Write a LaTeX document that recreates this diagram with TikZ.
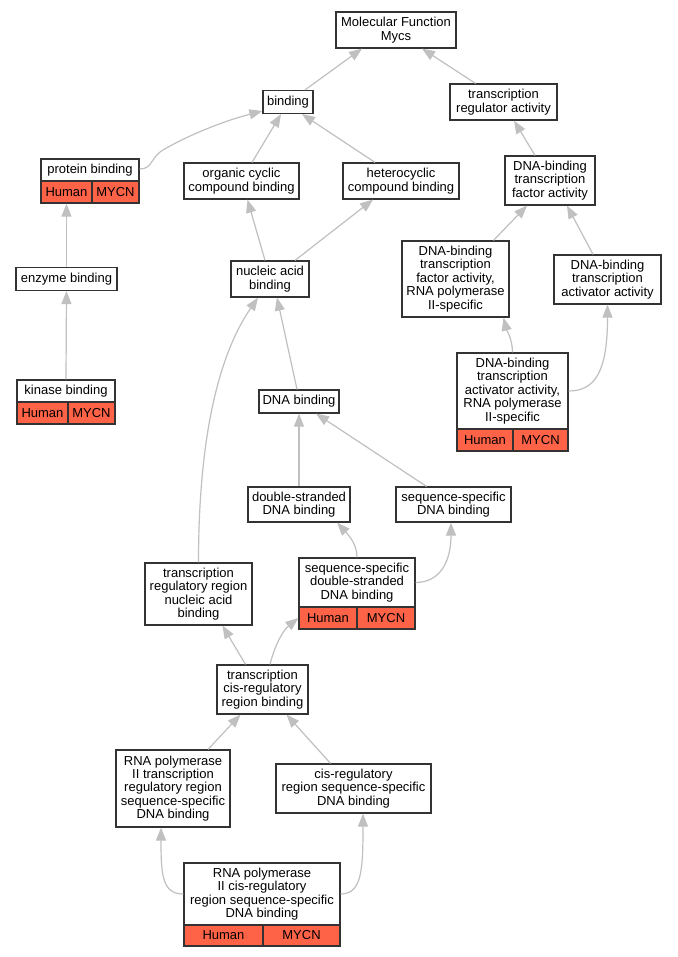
\documentclass[tikz,border=0pt]{standalone}
\usepackage{fontspec}
\usetikzlibrary{arrows.meta}
\newfontfamily\gofont{Liberation Sans}
\newcommand\gonodefont{\gofont\fontsize{13}{13.4}\selectfont}
\definecolor{tomatored}{HTML}{FF6347}
\definecolor{edgegray}{HTML}{C0C0C0}
\definecolor{boxline}{HTML}{333333}
\tikzset{
  box/.style={draw=boxline, line width=1.2pt, fill=white, inner sep=0pt, align=center, font=\gonodefont},
  cell/.style={box, fill=tomatored},
  edge/.style={draw=edgegray, line width=1.2pt, -{Triangle[length=13pt,width=10pt]}},
}
\begin{document}
\begin{tikzpicture}[x=1pt,y=-1pt]
\useasboundingbox[fill=white] (0,0) rectangle (677,957);
% nodes
\node[box, minimum width=120, minimum height=36] (mf) at (396,30) {Molecular Function\\Mycs};
\node[box, minimum width=50, minimum height=23] (bind) at (288,102) {binding};
\node[box, minimum width=107, minimum height=36] (tra) at (503.5,102) {transcription\\regulator activity};
\node[box, minimum width=98, minimum height=22] (pbw) at (90,170) {protein binding};
\node[cell, minimum width=51, minimum height=22] (pbh) at (66.5,192) {Human};
\node[cell, minimum width=47, minimum height=22] (pbm) at (115.5,192) {MYCN};
\node[box, minimum width=115, minimum height=36] (org) at (241.5,181) {organic cyclic\\compound binding};
\node[box, minimum width=116, minimum height=36] (het) at (401,181) {heterocyclic\\compound binding};
\node[box, minimum width=90, minimum height=49] (dbtfa) at (550,180.5) {DNA-binding\\transcription\\factor activity};
\node[box, minimum width=101, minimum height=23] (enz) at (66.5,279) {enzyme binding};
\node[box, minimum width=78, minimum height=36] (nuc) at (270,279) {nucleic acid\\binding};
\node[box, minimum width=107, minimum height=76] (dbtfar) at (455.5,279) {DNA-binding\\transcription\\factor activity,\\RNA polymerase\\II-specific};
\node[box, minimum width=107, minimum height=49] (dbtaa) at (607.5,279.5) {DNA-binding\\transcription\\activator activity};
\node[box, minimum width=111, minimum height=76] (dbtaarw) at (512.5,391) {DNA-binding\\transcription\\activator activity,\\RNA polymerase\\II-specific};
\node[cell, minimum width=56, minimum height=22] (dbtaarh) at (485,440) {Human};
\node[cell, minimum width=55, minimum height=22] (dbtaarm) at (540.5,440) {MYCN};
\node[box, minimum width=98, minimum height=22] (kinw) at (66,391) {kinase binding};
\node[cell, minimum width=51, minimum height=22] (kinh) at (42.5,413) {Human};
\node[cell, minimum width=47, minimum height=22] (kinm) at (91.5,413) {MYCN};
\node[box, minimum width=80, minimum height=23] (dnab) at (299,401.5) {DNA binding};
\node[box, minimum width=102, minimum height=35] (ds) at (299,504.5) {double-stranded\\DNA binding};
\node[box, minimum width=115, minimum height=35] (ss) at (453.5,504.5) {sequence-specific\\DNA binding};
\node[box, minimum width=116, minimum height=49] (ssdsw) at (357,582.5) {sequence-specific\\double-stranded\\DNA binding};
\node[cell, minimum width=58, minimum height=22] (ssdsh) at (328,618) {Human};
\node[cell, minimum width=58, minimum height=22] (ssdsm) at (386,618) {MYCN};
\node[box, minimum width=107, minimum height=62] (trrna) at (198.5,594) {transcription\\regulatory region\\nucleic acid\\binding};
\node[box, minimum width=91, minimum height=49] (tcrb) at (262.5,689.5) {transcription\\cis-regulatory\\region binding};
\node[box, minimum width=114, minimum height=77] (rtrr) at (173,788.5) {RNA polymerase\\II transcription\\regulatory region\\sequence-specific\\DNA binding};
\node[box, minimum width=155, minimum height=49] (cis) at (353.5,788.5) {cis-regulatory\\region sequence-specific\\DNA binding};
\node[box, minimum width=156, minimum height=62] (rcisw) at (262,894) {RNA polymerase\\II cis-regulatory\\region sequence-specific\\DNA binding};
\node[cell, minimum width=79, minimum height=21] (rcish) at (223.5,935.5) {Human};
\node[cell, minimum width=77, minimum height=21] (rcism) at (301.5,935.5) {MYCN};
% edges
\draw[edge] ([xshift=17]bind.north) -- ([xshift=-34]mf.south);
\draw[edge] ([xshift=-28]tra.north) -- ([xshift=26]mf.south);
\draw[edge] ([yshift=1]pbw.east) .. controls +(13,0) and (150,158) .. (163,150) .. controls (185,137) and (220,122) .. ([yshift=-9]bind.west);
\draw[edge] ([xshift=10.5]org.north) -- ([xshift=-7]bind.south);
\draw[edge] ([xshift=-26]het.north) -- ([xshift=14]bind.south);
\draw[edge] ([xshift=-15]dbtfa.north) -- ([xshift=10.5]tra.south);
\draw[edge] (enz.north) -- (pbh.south);
\draw[edge] (kinw.north) -- (enz.south);
\draw[edge] ([xshift=-5]nuc.north) -- ([xshift=6]org.south);
\draw[edge] ([xshift=25]nuc.north) -- ([xshift=-28]het.south);
\draw[edge] ([xshift=38]dbtfar.north) -- ([xshift=-23]dbtfa.south);
\draw[edge] ([xshift=-14.5]dbtaa.north) -- ([xshift=17]dbtfa.south);
\draw[edge] (dbtaarw.north) .. controls +(0,-13) and +(3,12) .. ([xshift=48]dbtfar.south);
\draw[edge] (dbtaarw.east) .. controls +(27,0) and +(0,66) .. (dbtaa.south);
\draw[edge] ([xshift=-2]dnab.north) -- ([xshift=7]nuc.south);
\draw[edge] (trrna.north) .. controls +(0,-113) and (215,360) .. ([xshift=-12]nuc.south);
\draw[edge] (ds.north) -- (dnab.south);
\draw[edge] ([xshift=-27]ss.north) -- ([xshift=17]dnab.south);
\draw[edge] (ssdsw.north) .. controls +(0,-13) and +(12,13) .. ([xshift=38]ds.south);
\draw[edge] (ssdsw.east) .. controls +(25,0) and +(0,38) .. ([xshift=-2.5]ss.south);
\draw[edge] ([xshift=-17]tcrb.north) -- ([xshift=24]trrna.south);
\draw[edge] ([xshift=7.5]tcrb.north) .. controls +(5,-20) and +(-15,12) .. (ssdsh.west);
\draw[edge] ([xshift=35]rtrr.north) -- ([xshift=-22]tcrb.south);
\draw[edge] ([xshift=-23]cis.north) -- ([xshift=24]tcrb.south);
\draw[edge] (rcisw.west) .. controls +(-21,0) and +(0,48) .. ([xshift=-12]rtrr.south);
\draw[edge] (rcisw.east) .. controls +(21,0) and +(0,57) .. ([xshift=9.5]cis.south);
\end{tikzpicture}
\end{document}
